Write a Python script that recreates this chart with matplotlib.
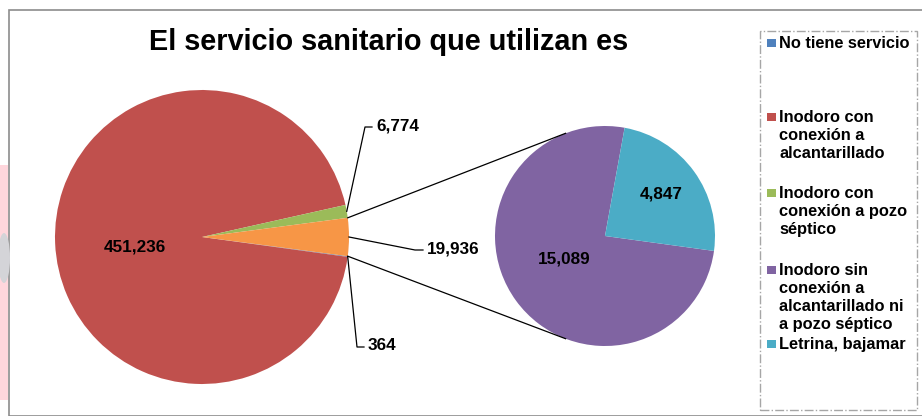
import matplotlib.pyplot as plt
from matplotlib.patches import Rectangle, Ellipse
import numpy as np

plt.rcParams['font.family'] = ['Liberation Sans', 'DejaVu Sans']

title = 'El servicio sanitario que utilizan es'
main_labels = ['No tiene servicio', 'Inodoro con\nconexión a\nalcantarillado',
               'Inodoro con\nconexión a pozo\nséptico']
sub_labels = ['Inodoro sin\nconexión a\nalcantarillado ni\na pozo séptico', 'Letrina, bajamar']
main_values = [364, 451236, 6774]
sub_values = [15089, 4847]
main_colors = ['#4F81BD', '#C0504D', '#9BBB59']
other_color = '#F79646'
sub_colors = ['#8064A2', '#4BACC6']

H = 416  # figure height in px, used to flip y


def fy(y):
    return H - y


fig = plt.figure(figsize=(9.22, 4.16), dpi=100)
ax = fig.add_axes([0, 0, 1, 1])

# main pie (the last slice groups the secondary pie)
vals = main_values + [sum(sub_values)]
cols = main_colors + [other_color]
frac_other = vals[-1] / sum(vals) * 360
c1, r1 = (202, fy(237)), 147
w1, _ = ax.pie(vals, colors=cols, startangle=-frac_other / 2, counterclock=False,
               center=c1, radius=r1, wedgeprops=dict(linewidth=0))

# secondary pie
c2, r2 = (605, fy(236)), 110
w2, _ = ax.pie(sub_values, colors=sub_colors, startangle=-7.8, counterclock=False,
               center=c2, radius=r2, wedgeprops=dict(linewidth=0))

# connector lines
for a1, a2 in [(frac_other / 2, 111), (-frac_other / 2, -111)]:
    p1 = (c1[0] + r1 * np.cos(np.radians(a1)), c1[1] + r1 * np.sin(np.radians(a1)))
    p2 = (c2[0] + r2 * np.cos(np.radians(a2)), c2[1] + r2 * np.sin(np.radians(a2)))
    ax.plot([p1[0], p2[0]], [p1[1], p2[1]], color='black', lw=0.9)

fmt = lambda v: f'{v:,}'
lab_kw = dict(fontsize=12.3, fontweight='bold', color='black')

# inner labels
ax.text(135, fy(247), fmt(main_values[1]), ha='center', va='center', **lab_kw)
ax.text(564, fy(259), fmt(sub_values[0]), ha='center', va='center', **lab_kw)
ax.text(661, fy(194), fmt(sub_values[1]), ha='center', va='center', **lab_kw)


# outside labels with leader lines
def leader(wedge, knee, end, txt):
    th = np.radians((wedge.theta1 + wedge.theta2) / 2)
    p = (c1[0] + r1 * np.cos(th), c1[1] + r1 * np.sin(th))
    ax.plot([p[0], knee[0], end[0]], [p[1], fy(knee[1]), fy(end[1])], color='black', lw=0.9)
    ax.text(end[0] + 4, fy(end[1] - 1), txt, ha='left', va='center', **lab_kw)


leader(w1[2], (365, 127), (372, 127), fmt(main_values[2]))
leader(w1[3], (415, 250), (423, 250), fmt(vals[3]))
leader(w1[0], (357, 347), (364, 347), fmt(main_values[0]))

ax.set_xlim(0, 922)
ax.set_ylim(0, H)
ax.set_aspect('equal')
ax.axis('off')

# chart border (top and left visible) and faint watermark at left edge
fig.patches.append(Rectangle((9, fy(416)), 920, 406, transform=None, fill=False,
                             edgecolor='#8c8c8c', lw=1.2))
fig.patches.append(Rectangle((0, fy(400)), 8, 235, transform=None,
                             facecolor='#ffd6dc', edgecolor='none'))
fig.patches.append(Ellipse((4, fy(258)), 12, 50, transform=None,
                           facecolor='#d4d4d8', edgecolor='none'))

# title
fig.text(389 / 922, fy(42) / H, title, ha='center', va='center',
         fontsize=20.8, fontweight='bold')

# legend
fig.patches.append(Rectangle((760, fy(410)), 157, 379, transform=None, fill=False,
                             edgecolor='#a6a6a6', lw=1, linestyle='-.'))
leg_labels = main_labels + sub_labels
leg_colors = main_colors + sub_colors
leg_y = [43, 117, 193, 270, 344]
for lab, col, y in zip(leg_labels, leg_colors, leg_y):
    fig.patches.append(Rectangle((767, fy(y) - 4), 9, 8, transform=None,
                                 facecolor=col, edgecolor='none'))
    fig.text(779 / 922, (fy(y) + 7) / H, lab, ha='left', va='top',
             fontsize=11.8, fontweight='bold', linespacing=1.24)

fig.savefig('out.png', dpi=100)
